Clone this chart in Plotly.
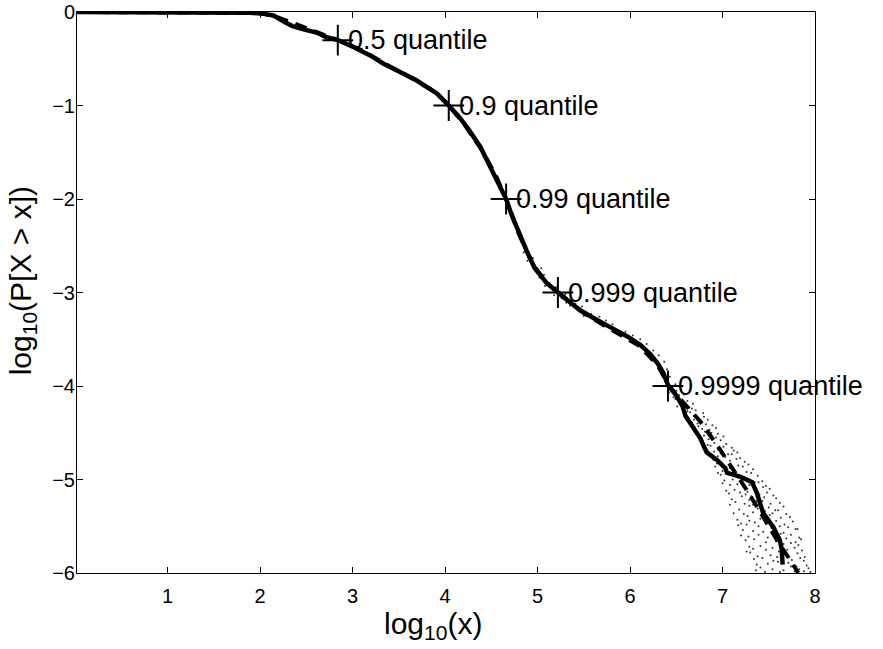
import plotly.graph_objects as go

# empirical CCDF (solid)
emp_x = [0.02, 1.0, 1.5, 1.9, 2.05, 2.15, 2.25, 2.35, 2.45, 2.61, 2.72, 2.84, 3.0, 3.2, 3.33, 3.5,
         3.69, 3.8, 3.91, 4.04, 4.15, 4.25, 4.38, 4.45, 4.52, 4.58, 4.66, 4.72, 4.81, 4.88, 4.97,
         5.10, 5.22, 5.34, 5.46, 5.60, 5.72, 5.84, 5.97, 6.11, 6.22, 6.30, 6.36, 6.41, 6.50, 6.57,
         6.60, 6.65, 6.72, 6.76, 6.80, 6.83, 6.94, 7.03, 7.05, 7.19, 7.32, 7.37, 7.44, 7.55, 7.62,
         7.64, 7.65]
emp_y = [0.0, 0.0, -0.002, -0.008, -0.02, -0.04, -0.10, -0.15, -0.18, -0.22, -0.27, -0.30, -0.37,
         -0.47, -0.55, -0.63, -0.73, -0.80, -0.87, -1.00, -1.12, -1.25, -1.44, -1.58, -1.72, -1.84,
         -2.00, -2.17, -2.40, -2.55, -2.74, -2.90, -3.00, -3.10, -3.19, -3.27, -3.33, -3.40, -3.47,
         -3.56, -3.66, -3.76, -3.86, -3.99, -4.10, -4.22, -4.32, -4.40, -4.50, -4.56, -4.65, -4.71,
         -4.79, -4.88, -4.93, -4.97, -5.03, -5.14, -5.36, -5.51, -5.65, -5.75, -5.91]

# fitted CCDF (dashed)
fit_x = [0.02, 1.5, 2.0, 2.2, 2.4, 2.6, 2.84, 3.1, 3.4, 3.7, 3.9, 4.04, 4.2, 4.4, 4.55, 4.66, 4.8,
         4.95, 5.1, 5.22, 5.5, 5.8, 6.1, 6.3, 6.42, 6.58, 6.76, 6.94, 7.08, 7.26, 7.44, 7.59, 7.73,
         7.82]
fit_y = [0.0, 0.0, -0.01, -0.06, -0.14, -0.21, -0.30, -0.41, -0.58, -0.74, -0.86, -1.0, -1.19,
         -1.48, -1.75, -2.0, -2.38, -2.70, -2.90, -3.0, -3.22, -3.40, -3.57, -3.78, -4.0, -4.18,
         -4.38, -4.63, -4.84, -5.11, -5.40, -5.65, -5.86, -6.0]

# simulated samples around the tail (dots) as (x, y)
tail_samples = [
    (4.83, -2.46), (4.88, -2.53), (4.85, -2.57), (4.91, -2.61), (4.89, -2.66), (4.95, -2.63),
    (4.97, -2.71), (4.99, -2.77), (5.04, -2.74), (5.02, -2.84), (5.07, -2.81), (5.09, -2.88),
    (5.08, -2.93), (5.13, -2.90), (5.16, -2.96), (5.20, -2.94), (5.18, -3.03), (5.24, -2.99),
    (5.26, -3.06), (5.30, -3.02), (5.31, -3.11), (5.37, -3.08), (5.35, -3.14), (5.41, -3.12),
    (5.44, -3.19), (5.48, -3.15), (5.52, -3.21), (5.50, -3.25), (5.58, -3.23), (5.61, -3.28),
    (5.67, -3.26), (5.69, -3.33), (5.74, -3.30), (5.77, -3.37), (5.81, -3.34), (5.85, -3.40),
    (5.88, -3.44), (5.95, -3.42), (5.98, -3.48), (6.03, -3.46), (6.06, -3.53), (6.11, -3.50),
    (6.13, -3.58), (6.18, -3.55), (6.19, -3.64), (6.25, -3.62), (6.26, -3.71), (6.31, -3.67),
    (6.32, -3.77), (6.37, -3.74), (6.35, -3.85), (6.40, -3.82), (6.43, -3.90), (6.38, -3.95),
    (6.41, -4.01), (6.49, -3.98), (6.45, -4.03), (6.50, -4.05), (6.42, -4.07), (6.55, -4.04),
    (6.47, -4.12), (6.58, -4.09), (6.53, -4.10), (6.62, -4.16), (6.49, -4.14), (6.56, -4.18),
    (6.51, -4.22), (6.68, -4.19), (6.59, -4.20), (6.64, -4.23), (6.71, -4.26), (6.56, -4.24),
    (6.62, -4.27), (6.67, -4.24), (6.60, -4.31), (6.79, -4.29), (6.70, -4.33), (6.65, -4.28),
    (6.84, -4.36), (6.63, -4.34), (6.74, -4.37), (6.69, -4.36), (6.80, -4.33), (6.73, -4.40),
    (6.89, -4.42), (6.67, -4.39), (6.82, -4.41), (6.78, -4.46), (6.70, -4.44), (6.93, -4.45),
    (6.86, -4.47), (6.74, -4.43), (6.95, -4.51), (6.81, -4.49), (6.72, -4.52), (6.88, -4.50),
    (6.76, -4.56), (7.01, -4.54), (6.85, -4.57), (6.93, -4.55), (6.80, -4.53), (6.91, -4.61),
    (6.77, -4.60), (7.04, -4.62), (6.98, -4.58), (6.84, -4.63), (7.10, -4.66), (6.87, -4.64),
    (6.80, -4.67), (7.01, -4.65), (6.95, -4.68), (6.83, -4.71), (7.12, -4.69), (6.98, -4.72),
    (6.91, -4.70), (7.06, -4.73), (7.16, -4.71), (7.03, -4.76), (6.86, -4.74), (7.19, -4.77),
    (6.95, -4.75), (7.10, -4.73), (7.24, -4.81), (6.90, -4.79), (7.08, -4.80), (6.99, -4.82),
    (7.15, -4.78), (6.94, -4.83), (6.92, -4.86), (7.28, -4.84), (7.04, -4.87), (7.17, -4.85),
    (7.11, -4.88), (7.22, -4.86), (7.00, -4.91), (7.33, -4.89), (6.95, -4.93), (7.13, -4.90),
    (7.26, -4.92), (7.08, -4.88), (7.38, -4.96), (7.05, -4.94), (7.20, -4.97), (6.98, -4.95),
    (7.31, -4.93), (7.15, -4.96), (7.02, -5.01), (7.24, -4.99), (7.43, -5.02), (7.11, -5.00),
    (7.35, -5.03), (7.18, -4.98), (7.29, -5.06), (7.00, -5.04), (7.47, -5.07), (7.16, -5.05),
    (7.39, -5.03), (7.08, -5.06), (7.23, -5.08), (7.13, -5.11), (7.36, -5.09), (7.04, -5.12),
    (7.51, -5.10), (7.27, -5.13), (7.44, -5.08), (7.40, -5.16), (7.19, -5.14), (7.55, -5.17),
    (7.07, -5.15), (7.31, -5.18), (7.48, -5.14), (7.25, -5.16), (7.10, -5.21), (7.45, -5.19),
    (7.29, -5.22), (7.58, -5.20), (7.21, -5.18), (7.37, -5.23), (7.52, -5.26), (7.14, -5.24),
    (7.33, -5.27), (7.62, -5.25), (7.43, -5.23), (7.24, -5.26), (7.08, -5.27), (7.38, -5.31),
    (7.66, -5.29), (7.18, -5.32), (7.50, -5.30), (7.29, -5.28), (7.57, -5.33), (7.12, -5.36),
    (7.46, -5.34), (7.69, -5.37), (7.33, -5.35), (7.60, -5.33), (7.23, -5.37), (7.54, -5.36),
    (7.63, -5.41), (7.27, -5.39), (7.41, -5.42), (7.73, -5.40), (7.16, -5.43), (7.51, -5.38),
    (7.35, -5.46), (7.58, -5.44), (7.20, -5.47), (7.76, -5.45), (7.46, -5.43), (7.67, -5.48),
    (7.29, -5.44), (7.71, -5.51), (7.17, -5.49), (7.53, -5.52), (7.39, -5.50), (7.79, -5.53),
    (7.26, -5.48), (7.62, -5.50), (7.44, -5.56), (7.22, -5.54), (7.66, -5.57), (7.33, -5.55),
    (7.81, -5.53), (7.57, -5.56), (7.28, -5.61), (7.74, -5.59), (7.49, -5.62), (7.20, -5.60),
    (7.63, -5.58), (7.83, -5.62), (7.39, -5.59), (7.58, -5.66), (7.34, -5.64), (7.79, -5.67),
    (7.25, -5.65), (7.69, -5.63), (7.47, -5.67), (7.85, -5.64), (7.41, -5.71), (7.66, -5.69),
    (7.29, -5.72), (7.82, -5.70), (7.54, -5.73), (7.74, -5.68), (7.86, -5.76), (7.33, -5.74),
    (7.61, -5.77), (7.47, -5.75), (7.78, -5.73), (7.26, -5.77), (7.70, -5.75), (7.52, -5.81),
    (7.81, -5.79), (7.38, -5.82), (7.66, -5.80), (7.89, -5.83), (7.30, -5.78), (7.59, -5.83),
    (7.75, -5.86), (7.43, -5.84), (7.88, -5.87), (7.34, -5.85), (7.63, -5.83), (7.55, -5.87),
    (7.84, -5.84), (7.37, -5.91), (7.71, -5.89), (7.91, -5.92), (7.49, -5.90), (7.80, -5.93),
    (7.60, -5.88), (7.83, -5.96), (7.41, -5.94), (7.66, -5.97), (7.93, -5.95), (7.54, -5.96),
    (7.74, -5.93), (7.36, -5.97), (7.62, -5.99), (7.88, -5.98), (7.46, -5.99), (7.78, -5.98),
    (7.95, -5.99),
]
dot_x = [p[0] for p in tail_samples]
dot_y = [p[1] for p in tail_samples]

# quantile markers
q_labels = ["0.5 quantile", "0.9 quantile", "0.99 quantile", "0.999 quantile", "0.9999 quantile"]
q_x = [2.84, 4.04, 4.66, 5.22, 6.41]
q_y = [-0.301, -1.0, -2.0, -3.0, -4.0]

x_ticks = [1, 2, 3, 4, 5, 6, 7, 8]
y_ticks = [-6, -5, -4, -3, -2, -1, 0]

FONT = "Liberation Sans, Arial, Helvetica, sans-serif"

fig = go.Figure()
fig.add_trace(go.Scatter(x=dot_x, y=dot_y, mode="markers",
                         marker=dict(size=2, color="#333333", line=dict(width=0)),
                         hoverinfo="skip", showlegend=False))
fig.add_trace(go.Scatter(x=fit_x, y=fit_y, mode="lines",
                         line=dict(color="black", width=4, dash="12px,8px"),
                         showlegend=False))
fig.add_trace(go.Scatter(x=emp_x, y=emp_y, mode="lines",
                         line=dict(color="black", width=4.5),
                         showlegend=False))
fig.add_trace(go.Scatter(x=q_x, y=q_y, mode="markers",
                         marker=dict(symbol="cross-thin", size=22, color="black",
                                     line=dict(width=2, color="black")),
                         cliponaxis=False, showlegend=False))

for lx, ly, lt in zip(q_x, q_y, q_labels):
    fig.add_annotation(x=lx, y=ly, text=lt, showarrow=False, xanchor="left", yanchor="middle",
                       xshift=8, font=dict(family=FONT, size=27, color="black"))

fig.add_annotation(xref="paper", yref="paper", x=0.483, y=-0.057, text="log<sub>10</sub>(x)",
                   showarrow=False, xanchor="center", yanchor="top",
                   font=dict(family=FONT, size=30, color="black"))
fig.add_annotation(xref="paper", yref="paper", x=-0.0745, y=0.52, text="log<sub>10</sub>(P[X > x])",
                   showarrow=False, xanchor="center", yanchor="middle", textangle=-90,
                   font=dict(family=FONT, size=30, color="black"))

axis_common = dict(showgrid=False, zeroline=False, showline=True, linecolor="black", linewidth=1,
                   mirror="ticks", ticks="inside", ticklen=6, tickwidth=1, tickcolor="black",
                   automargin=False,
                   tickfont=dict(family=FONT, size=20, color="black"))
fig.update_xaxes(range=[0.02, 8], tickvals=x_ticks, ticktext=[str(v) for v in x_ticks],
                 ticklabelstandoff=5, **axis_common)
fig.update_yaxes(range=[-6, 0], tickvals=y_ticks, ticklabelstandoff=-3, **axis_common)

fig.update_layout(width=883, height=649, margin=dict(l=77, r=68, t=12, b=76),
                  plot_bgcolor="white", paper_bgcolor="white", showlegend=False)

fig.write_html("out.html", config={"displayModeBar": False},
               post_script="document.body.style.margin='0';")
